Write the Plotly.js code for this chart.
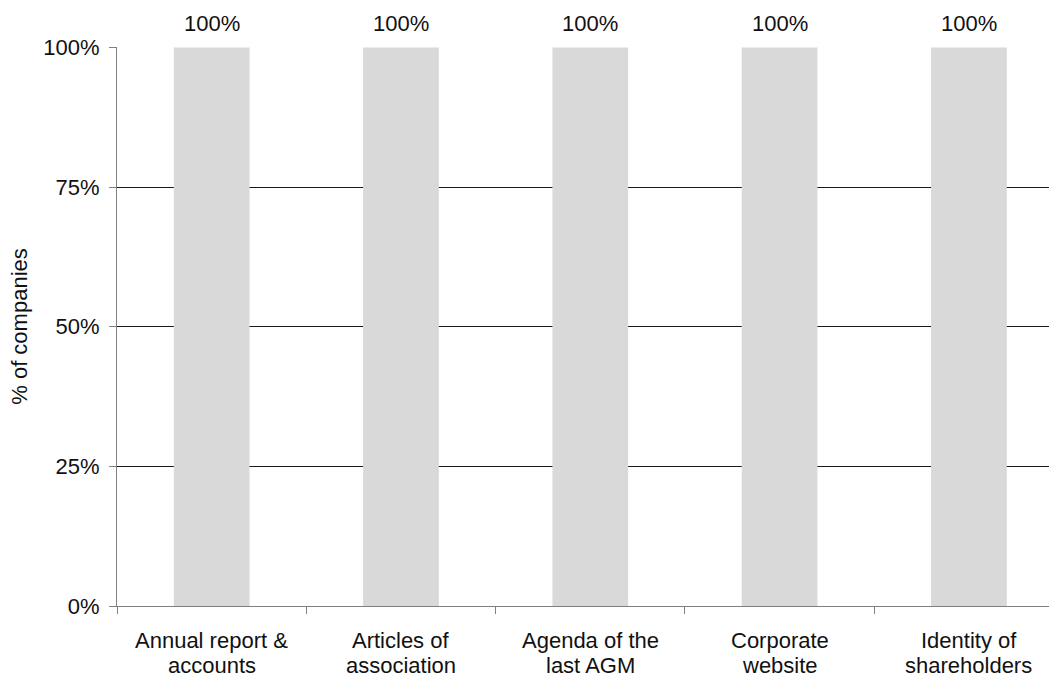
<!DOCTYPE html>
<html>
<head>
<meta charset="utf-8">
<script src="https://cdn.plot.ly/plotly-3.0.1.min.js"></script>
<style>html,body{margin:0;padding:0;background:#fff;}#chart{width:1049px;height:677px;}</style>
</head>
<body>
<div id="chart"></div>
<script>
const categories = ["Annual report & accounts", "Articles of association", "Agenda of the last AGM", "Corporate website", "Identity of shareholders"];
const labelLine1 = ["Annual report &", "Articles of", "Agenda of the", "Corporate", "Identity of"];
const labelLine2 = ["accounts", "association", "last AGM", "website", "shareholders"];
const values = [1.0, 1.0, 1.0, 1.0, 1.0];
const valueLabels = ["100%", "100%", "100%", "100%", "100%"];
const yTickVals = [0, 0.25, 0.5, 0.75, 1.0];
const yTickText = ["0%", "25%", "50%", "75%", "100%"];

const font = "Liberation Sans, Arial, sans-serif";
const txt = "#111";
const fsize = 22;

const trace = {
  type: "bar",
  x: categories,
  y: values,
  marker: {color: "#d9d9d9", line: {width: 0}},
  hoverinfo: "skip"
};

const annotations = [];
categories.forEach((c, i) => {
  annotations.push({
    x: c, y: values[i], xref: "x", yref: "y",
    text: valueLabels[i], showarrow: false,
    yanchor: "bottom", yshift: 10,
    font: {family: font, size: fsize, color: txt}
  });
  annotations.push({
    x: c, y: 0, xref: "x", yref: "paper",
    text: labelLine1[i], showarrow: false,
    yanchor: "middle", yshift: -34,
    font: {family: font, size: fsize, color: txt}
  });
  annotations.push({
    x: c, y: 0, xref: "x", yref: "paper",
    text: labelLine2[i], showarrow: false,
    yanchor: "middle", yshift: -59,
    font: {family: font, size: fsize, color: txt}
  });
});

const layout = {
  width: 1049, height: 677,
  margin: {l: 117, r: 0, t: 47, b: 71, pad: 0},
  paper_bgcolor: "#fff", plot_bgcolor: "#fff",
  bargap: 0.6,
  showlegend: false,
  font: {family: font, size: fsize, color: txt},
  xaxis: {
    type: "category",
    range: [-0.5, 4.423],
    tickson: "boundaries",
    ticks: "outside", ticklen: 7, tickcolor: "#808080", tickwidth: 1,
    showline: true, linecolor: "#808080", linewidth: 1,
    showgrid: false, zeroline: false,
    showticklabels: false
  },
  yaxis: {
    range: [0, 1.001],
    tickvals: yTickVals, ticktext: yTickText,
    ticks: "outside", ticklen: 7, tickcolor: "#808080", tickwidth: 1,
    ticklabelstandoff: 5,
    showline: true, linecolor: "#808080", linewidth: 1,
    showgrid: true, gridcolor: "#1a1a1a", gridwidth: 1,
    zeroline: false,
    tickfont: {family: font, size: fsize, color: txt},
    title: {text: "% of companies", font: {family: font, size: fsize, color: txt}, standoff: 9}
  },
  annotations: annotations
};

Plotly.newPlot("chart", [trace], layout, {staticPlot: true, displayModeBar: false});
</script>
</body>
</html>
